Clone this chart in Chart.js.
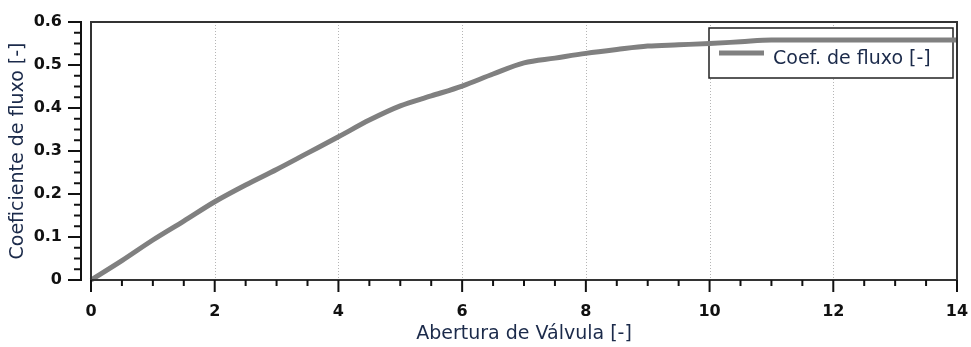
<!DOCTYPE html>
<html>
<head>
<meta charset="utf-8">
<script src="https://cdn.jsdelivr.net/npm/chart.js@4.4.1/dist/chart.umd.min.js"></script>
<style>
  html, body { margin: 0; padding: 0; background: #fff; }
  #wrap { width: 971px; height: 347px; }
</style>
</head>
<body>
<div id="wrap"><canvas id="myChart" width="971" height="347"></canvas></div>
<script>
// valve opening vs flow coefficient
const abertura = [0, 0.5, 1, 1.5, 2, 2.5, 3, 3.5, 4, 4.5, 5, 5.5, 6, 6.5, 7, 7.5, 8, 8.5, 9, 9.5, 10, 10.5, 11, 12, 13, 14];
const coefFluxo = [0, 0.045, 0.093, 0.137, 0.182, 0.221, 0.257, 0.295, 0.333, 0.372, 0.405, 0.428, 0.451, 0.479, 0.505, 0.516, 0.527, 0.536, 0.544, 0.547, 0.550, 0.554, 0.558, 0.558, 0.558, 0.558];
const seriesLabel = 'Coef. de fluxo [-]';
const xTitle = 'Abertura de Válvula [-]';
const yTitle = 'Coeficiente de fluxo [-]';

const navy = '#1b2a4a';
const lineGrey = '#808080';

const points = abertura.map((a, i) => ({x: a, y: coefFluxo[i]}));

// frame, axis lines, tick marks, dotted grid and the boxed legend
const framePlugin = {
  id: 'frame',
  beforeDatasetsDraw(chart) {
    const ctx = chart.ctx;
    const area = chart.chartArea;
    const xs = chart.scales.x;
    ctx.save();
    // dotted vertical grid
    ctx.strokeStyle = '#b5b5b5';
    ctx.lineWidth = 1;
    ctx.setLineDash([1, 2]);
    for (let v = 2; v < 14; v += 2) {
      const px = Math.round(xs.getPixelForValue(v)) + 0.5;
      ctx.beginPath();
      ctx.moveTo(px, area.top);
      ctx.lineTo(px, area.bottom);
      ctx.stroke();
    }
    ctx.setLineDash([]);
    // legend box (line passes over it)
    const lx = area.right - 248, ly = area.top + 6, lw = 244, lh = 50;
    ctx.fillStyle = '#fff';
    ctx.fillRect(lx, ly, lw, lh);
    ctx.strokeStyle = '#222';
    ctx.lineWidth = 1.5;
    ctx.strokeRect(lx, ly, lw, lh);
    ctx.strokeStyle = lineGrey;
    ctx.lineWidth = 5;
    ctx.beginPath();
    ctx.moveTo(lx + 10, ly + 25);
    ctx.lineTo(lx + 55, ly + 25);
    ctx.stroke();
    ctx.fillStyle = navy;
    ctx.font = '19px "DejaVu Sans"';
    ctx.textBaseline = 'middle';
    ctx.textAlign = 'left';
    ctx.fillText(chart.data.datasets[0].label, lx + 64, ly + 31);
    ctx.restore();
  },
  afterDraw(chart) {
    const ctx = chart.ctx;
    const area = chart.chartArea;
    const xs = chart.scales.x, ys = chart.scales.y;
    ctx.save();
    // plot frame
    ctx.strokeStyle = '#333';
    ctx.lineWidth = 2;
    ctx.strokeRect(area.left, area.top, area.right - area.left, area.bottom - area.top);
    // x axis ticks
    ctx.strokeStyle = '#111';
    ctx.lineWidth = 2;
    for (let v = 0; v <= 14.001; v += 0.5) {
      const px = xs.getPixelForValue(v);
      const major = Math.abs(v % 2) < 1e-6;
      ctx.beginPath();
      ctx.moveTo(px, area.bottom);
      ctx.lineTo(px, area.bottom + (major ? 12 : 6));
      ctx.stroke();
    }
    // y axis line, set off to the left of the frame
    const ax = area.left - 10;
    ctx.beginPath();
    ctx.moveTo(ax, area.top - 1);
    ctx.lineTo(ax, area.bottom + 1);
    ctx.stroke();
    for (let i = 0; i <= 24; i++) {
      const v = i * 0.025;
      const py = ys.getPixelForValue(v);
      const major = i % 4 === 0;
      ctx.beginPath();
      ctx.moveTo(ax, py);
      ctx.lineTo(ax - (major ? 13 : 7), py);
      ctx.stroke();
    }
    ctx.restore();
  }
};

const data = {
  datasets: [{
    label: seriesLabel,
    data: points,
    borderColor: lineGrey,
    backgroundColor: lineGrey,
    borderWidth: 5,
    pointRadius: 0,
    cubicInterpolationMode: 'monotone',
    clip: false
  }]
};

const config = {
  type: 'line',
  data: data,
  options: {
    responsive: false,
    animation: false,
    layout: { padding: { top: 22, right: 14, left: 0, bottom: 0 } },
    plugins: {
      legend: { display: false },
      tooltip: { enabled: false }
    },
    scales: {
      x: {
        type: 'linear',
        min: 0,
        max: 14,
        afterFit: s => { s.height = 67; s.paddingLeft = 0; s.paddingRight = 0; },
        grid: { display: false, drawTicks: false },
        border: { display: false },
        ticks: {
          stepSize: 2,
          padding: 22,
          color: '#111',
          font: { family: 'DejaVu Sans', size: 16, weight: 'bold' }
        },
        title: {
          display: true,
          text: xTitle,
          color: navy,
          font: { family: 'DejaVu Sans', size: 19 },
          padding: { top: 0, bottom: 2 }
        }
      },
      y: {
        min: 0,
        max: 0.6,
        afterFit: s => { s.width = 91; s.paddingTop = 0; s.paddingBottom = 0; },
        grid: { display: false, drawTicks: false },
        border: { display: false },
        ticks: {
          stepSize: 0.1,
          padding: 29,
          color: '#111',
          font: { family: 'DejaVu Sans', size: 16, weight: 'bold' }
        },
        title: {
          display: true,
          text: yTitle,
          color: navy,
          font: { family: 'DejaVu Sans', size: 19 },
          padding: { top: 7, bottom: 0 }
        }
      }
    }
  },
  plugins: [framePlugin]
};

const myChart = new Chart(document.getElementById('myChart'), config);
</script>
</body>
</html>
